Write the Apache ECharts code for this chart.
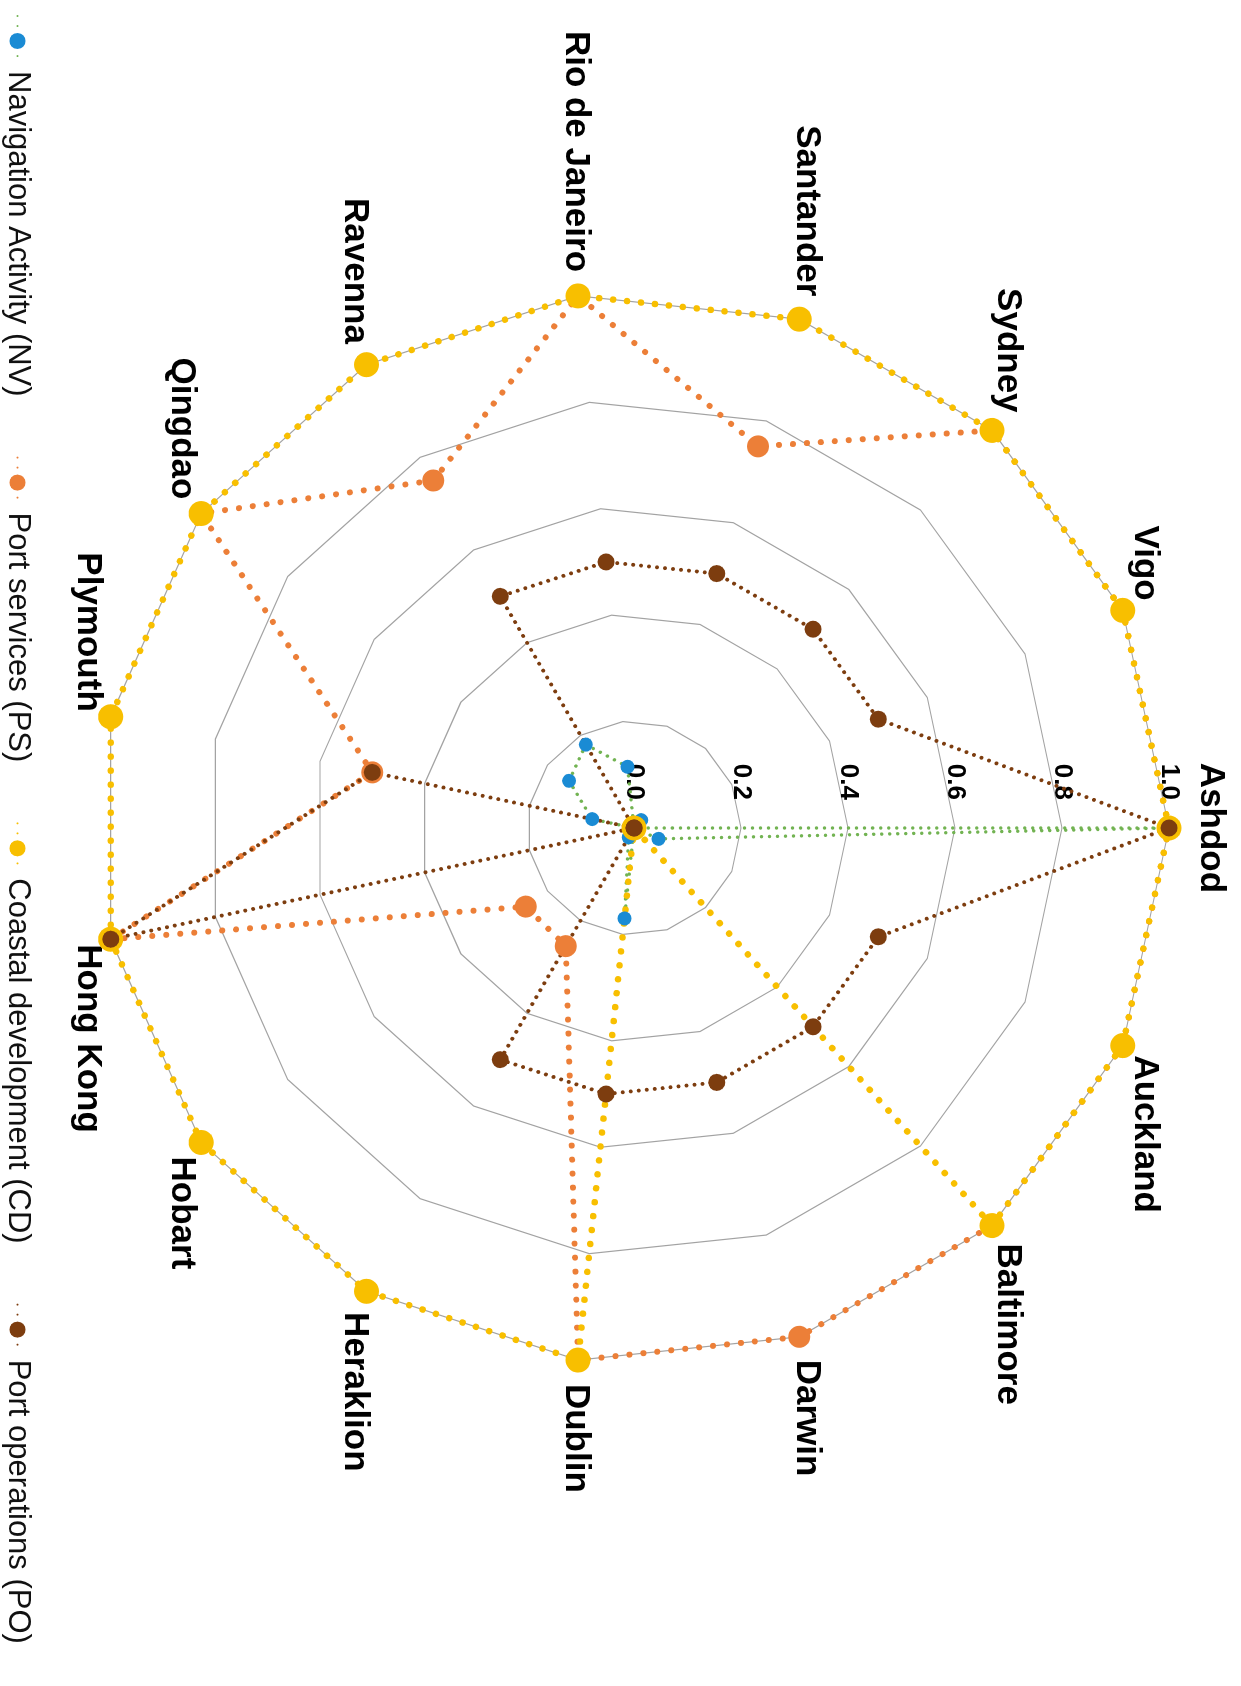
<!DOCTYPE html>
<html>
<head>
<meta charset="utf-8">
<script src="https://cdn.jsdelivr.net/npm/echarts@6/dist/echarts.min.js"></script>
<style>
html,body{margin:0;padding:0;overflow:hidden;background:#fff;width:1241px;height:1686px;}
#wrap{position:absolute;left:0;top:0;width:1686px;height:1241px;transform-origin:0 0;transform:translate(1241px,0) rotate(90deg);}
#chart{width:1686px;height:1241px;}
</style>
</head>
<body>
<div id="wrap"><div id="chart"></div></div>
<script>
// ---- data (categories listed clockwise starting at Ashdod) ----
const categories = ['Ashdod','Auckland','Baltimore','Darwin','Dublin','Heraklion','Hobart','Hong Kong','Plymouth','Qingdao','Ravenna','Rio de Janeiro','Santander','Sydney','Vigo'];
const seriesNames = ['Navigation Activity (NV)','Port services (PS)','Coastal development (CD)','Port operations (PO)'];
const nvValues = [1.0, 0.05, 0.0, 0.0, 0.17, 0.02, 0.0, 0.0, 0.08, 0.15, 0.18, 0.115, 0.0, 0.02, 0.0];
const psValues = [1.0, 1.0, 1.0, 1.0, 1.0, 0.255, 0.25, 1.0, 0.5, 1.0, 0.75, 1.0, 0.75, 1.0, 1.0];
const cdValues = [1.0, 1.0, 1.0, 0.0, 1.0, 1.0, 1.0, 1.0, 1.0, 1.0, 1.0, 1.0, 1.0, 1.0, 1.0];
const poValues = [1.0, 0.5, 0.5, 0.5, 0.5, 0.5, 0.0, 1.0, 0.5, 0.0, 0.5, 0.5, 0.5, 0.5, 0.5];
const tickLabels = ['0.0','0.2','0.4','0.6','0.8','1.0'];

// ---- styles ----
const FONT = '"Liberation Sans", Arial, Helvetica, sans-serif';
const styles = [
  {dot:'#1a8bd4', line:'#72b352', size:14, width:3.5, gap:8},
  {dot:'#ec7f38', line:'#ec7f38', size:22, width:6, gap:14},
  {dot:'#f8bf00', line:'#f8bf00', size:25, width:6.5, gap:14},
  {dot:'#7d3d0f', line:'#7d3d0f', size:17, width:4, gap:8}
];
const valueSets = [nvValues, psValues, cdValues, poValues];

// ECharts lays radar indicators out counter-clockwise; reorder to get clockwise
const n = categories.length;
const order = [0];
for (let i = n - 1; i >= 1; i--) order.push(i);

const indicator = order.map((idx, k) => {
  const ind = {name: categories[idx], min: 0, max: 1};
  if (k === 0) {
    ind.axisLabel = {
      show: true, margin: 28, fontSize: 26, fontWeight: 'bold', color: '#000', fontFamily: FONT,
      formatter: function (v) { return tickLabels[Math.round(v * 5)] || ''; }
    };
  }
  return ind;
});

const radarSeries = seriesNames.map((name, s) => ({
  type: 'radar',
  name: name,
  symbol: 'circle',
  symbolSize: styles[s].size,
  itemStyle: {color: styles[s].dot},
  lineStyle: {color: styles[s].line, width: styles[s].width, type: [0.01, styles[s].gap], cap: 'round'},
  data: [{name: name, value: order.map(i => valueSets[s][i])}]
}));

// empty line series only used to give the legend a "line + dot" icon
const legendSeries = seriesNames.map((name, s) => ({
  type: 'line',
  name: name,
  xAxisIndex: 0, yAxisIndex: 0,
  symbol: 'circle',
  itemStyle: {color: styles[s].dot},
  lineStyle: {color: styles[s].line, width: Math.min(styles[s].width, 4.5), type: [0.01, 10], cap: 'round'},
  data: []
}));

const chart = echarts.init(document.getElementById('chart'), null, {renderer: 'canvas'});
chart.setOption({
  animation: false,
  backgroundColor: '#ffffff',
  grid: {show: false, left: 0, top: 0, width: 10, height: 10},
  xAxis: {show: false, type: 'value'},
  yAxis: {show: false, type: 'value'},
  legend: {
    data: seriesNames,
    left: 10, top: 1203,
    orient: 'horizontal',
    itemWidth: 50, itemHeight: 20, itemGap: 60,
    textStyle: {fontSize: 31, color: '#111', fontFamily: FONT}
  },
  radar: {
    center: [828, 607],
    radius: 535,
    startAngle: 90,
    shape: 'polygon',
    splitNumber: 5,
    nameGap: 24,
    axisName: {color: '#000', fontSize: 35, fontWeight: 'bold', fontFamily: FONT},
    axisLine: {show: false},
    axisTick: {show: false},
    axisLabel: {show: false},
    splitArea: {show: false},
    splitLine: {lineStyle: {color: '#a3a3a3', width: 1.2}},
    indicator: indicator
  },
  series: legendSeries.concat(radarSeries)
});
</script>
</body>
</html>
